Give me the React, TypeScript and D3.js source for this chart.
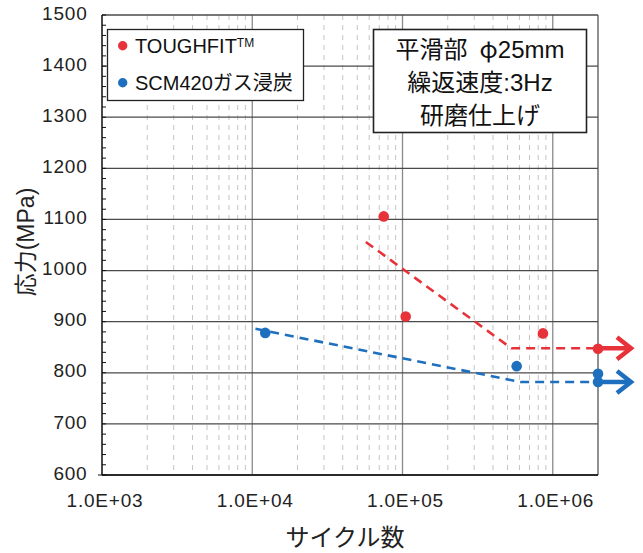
import React from "react";
import * as d3 from "d3";

const W = 643, H = 553;
const M = { left: 102, right: 598, top: 15, bottom: 475 };

const xDomain = [1e3, 2e6];
const yDomain = [600, 1500];
const xTickLabels = ["1.0E+03", "1.0E+04", "1.0E+05", "1.0E+06"];
const xTickValues = [1e3, 1e4, 1e5, 1e6];
const yTicks = [600, 700, 800, 900, 1000, 1100, 1200, 1300, 1400, 1500];

const toughCycles = [7.5e4, 1.05e5, 8.6e5, 2e6];
const toughStress = [1106, 910, 877, 847];
const toughTrendCycles = [5.7e4, 5.3e5, 2e6];
const toughTrendStress = [1056, 848, 848];

const scmCycles = [1.22e4, 5.75e5, 2e6, 2e6];
const scmStress = [878, 813, 798, 782];
const scmTrendCycles = [1.05e4, 6.1e5, 2e6];
const scmTrendStress = [886, 782, 782];

const seriesNames = ["TOUGHFIT", "SCM420ガス浸炭"];
const infoLines = ["平滑部", "繰返速度:3Hz", "研磨仕上げ"];

const RED = "#e8323a";
const BLUE = "#1f6fbf";
const LATIN = "'Liberation Sans', Arial, 'Noto Sans CJK JP', sans-serif";
const JP = "'Liberation Sans', 'Noto Sans CJK JP', sans-serif";
const CJK = "'Noto Sans CJK JP', sans-serif";

export default function App() {
  const x = d3.scaleLog().domain(xDomain).range([M.left, M.right]);
  const y = d3.scaleLinear().domain(yDomain).range([M.bottom, M.top]);

  const minor: number[] = [];
  for (let d = 1e3; d < 2e6; d *= 10) {
    for (let k = 2; k <= 9; k++) {
      const v = d * k;
      if (v < 2e6) minor.push(v);
    }
  }
  const yMinor = d3.range(600, 1501, 20);

  const line = d3
    .line<[number, number]>()
    .x((d) => x(d[0]))
    .y((d) => y(d[1]));

  const toughTrend = toughTrendCycles.map((c, i) => [c, toughTrendStress[i]] as [number, number]);
  const scmTrend = scmTrendCycles.map((c, i) => [c, scmTrendStress[i]] as [number, number]);

  const arrow = (yv: number, color: string) => {
    const x0 = x(2e6);
    const yy = y(yv);
    const tip = x0 + 35;
    return (
      <g stroke={color} strokeWidth={4.5} fill="none" strokeLinecap="butt" strokeLinejoin="miter">
        <line x1={x0} x2={tip - 3} y1={yy} y2={yy} />
        <polyline points={`${tip - 16},${yy - 11} ${tip - 2},${yy} ${tip - 16},${yy + 11}`} />
      </g>
    );
  };

  return (
    <svg width={W} height={H} style={{ position: "absolute", left: 0, top: 0, background: "#fff" }}>
      <rect x={0} y={0} width={W} height={H} fill="#fff" />
      {minor.map((v) => (
        <line key={"mv" + v} x1={x(v)} x2={x(v)} y1={M.top} y2={M.bottom} stroke="#c4c4c4" strokeWidth={1} strokeDasharray="5,5" />
      ))}
      {xTickValues.map((v) => (
        <line key={"Mv" + v} x1={x(v)} x2={x(v)} y1={M.top} y2={M.bottom} stroke="#8a8a8a" strokeWidth={1.3} />
      ))}
      <line x1={M.right} x2={M.right} y1={M.top} y2={M.bottom} stroke="#555" strokeWidth={1.3} />
      {yTicks.map((v) => (
        <line key={"h" + v} x1={M.left} x2={M.right} y1={y(v)} y2={y(v)} stroke="#4a4a4a" strokeWidth={1.3} />
      ))}
      <line x1={M.left} x2={M.left} y1={M.top} y2={M.bottom} stroke="#111" strokeWidth={1.3} />
      <line x1={M.left} x2={M.right} y1={M.bottom} y2={M.bottom} stroke="#111" strokeWidth={1.3} />
      {yMinor.map((v) => (
        <line key={"ym" + v} x1={M.left} x2={M.left + 4} y1={y(v)} y2={y(v)} stroke="#111" strokeWidth={1} />
      ))}
      <line x1={M.left - 4} x2={M.left} y1={M.bottom} y2={M.bottom} stroke="#111" strokeWidth={1} />

      {yTicks.map((v) => (
        <text key={"yl" + v} x={87.5} y={y(v) - 2} dy="0.35em" textAnchor="end" fontSize={19} letterSpacing={0.8} fontFamily={LATIN} fill="#222">
          {v}
        </text>
      ))}
      {xTickValues.map((v, i) => (
        <text key={"xl" + v} x={x(v) + 3} y={507} textAnchor="middle" fontSize={19} letterSpacing={0.8} fontFamily={LATIN} fill="#222">
          {xTickLabels[i]}
        </text>
      ))}
      <text x={345} y={546} textAnchor="middle" fontSize={24} fontFamily={JP} fill="#222">
        サイクル数
      </text>
      <text transform={`translate(34,242) rotate(-90)`} textAnchor="middle" fontSize={23} fontFamily={JP} fill="#222">
        応力(MPa)
      </text>

      <path d={line(toughTrend) || ""} fill="none" stroke={RED} strokeWidth={2.6} strokeDasharray="9,6" />
      <path d={line(scmTrend) || ""} fill="none" stroke={BLUE} strokeWidth={2.6} strokeDasharray="9,6" />
      {arrow(toughTrendStress[2], RED)}
      {arrow(scmTrendStress[2], BLUE)}

      {toughCycles.map((c, i) => (
        <circle key={"t" + i} cx={x(c)} cy={y(toughStress[i])} r={5.3} fill={RED} />
      ))}
      {scmCycles.map((c, i) => (
        <circle key={"s" + i} cx={x(c)} cy={y(scmStress[i])} r={5.3} fill={BLUE} />
      ))}

      <rect x={107.5} y={29.5} width={196} height={71} fill="#fff" stroke="#222" strokeWidth={1.3} />
      <circle cx={122.7} cy={45.7} r={4.7} fill={RED} />
      <text x={135} y={52.7} fontSize={20} fontFamily={LATIN} fill="#111">
        {seriesNames[0]}
        <tspan fontSize={12} dy="-6">TM</tspan>
      </text>
      <circle cx={122.7} cy={82.7} r={4.7} fill={BLUE} />
      <text x={135} y={90} fontSize={20} fontFamily={JP} fill="#111">
        {seriesNames[1]}
      </text>

      <rect x={373.5} y={29.5} width={213} height={103} fill="#fff" stroke="#222" strokeWidth={1.6} />
      <text x={480} y={58} textAnchor="middle" fontSize={24} fontFamily={JP} fill="#111">
        {infoLines[0]}
        <tspan fontFamily={CJK} dx="12">φ</tspan>
        25mm
      </text>
      <text x={480} y={90.5} textAnchor="middle" fontSize={24} fontFamily={JP} fill="#111">
        {infoLines[1]}
      </text>
      <text x={480} y={124} textAnchor="middle" fontSize={24} fontFamily={JP} fill="#111">
        {infoLines[2]}
      </text>
    </svg>
  );
}
